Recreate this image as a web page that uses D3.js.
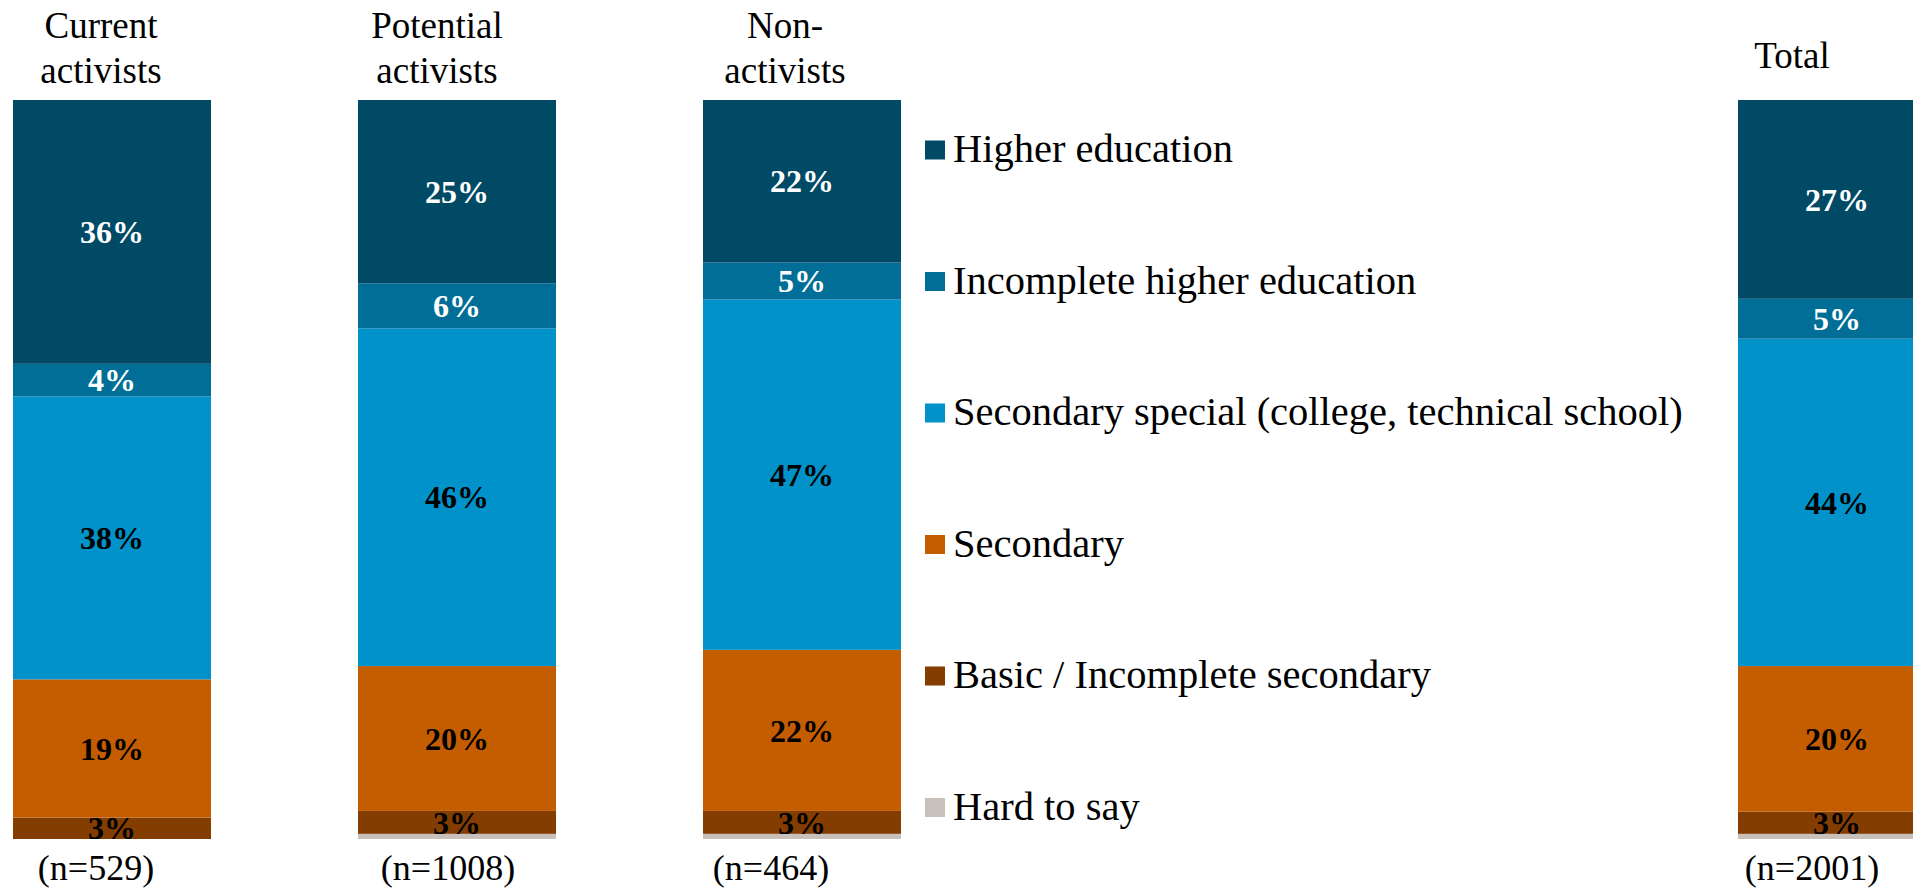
<!DOCTYPE html>
<html>
<head>
<meta charset="utf-8">
<script src="https://cdn.jsdelivr.net/npm/d3@7"></script>
<style>
  html, body { margin: 0; padding: 0; background: #ffffff; overflow: hidden; }
  svg { display: block; }
  text { font-family: "Liberation Serif", "DejaVu Serif", serif; }
</style>
</head>
<body>
<svg id="chart" width="1913" height="889"></svg>
<script>
// ---------- data ----------
const groups = ["Current activists", "Potential activists", "Non-activists", "Total"];
const headerLines = [["Current", "activists"], ["Potential", "activists"], ["Non-", "activists"], ["Total"]];
const sampleSizes = ["(n=529)", "(n=1008)", "(n=464)", "(n=2001)"];
const categories = [
  "Higher education",
  "Incomplete higher education",
  "Secondary special (college, technical school)",
  "Secondary",
  "Basic / Incomplete secondary",
  "Hard to say"
];
const higherEducation      = [35.7, 24.8, 22.0, 26.9];
const incompleteHigher     = [4.4, 6.1, 5.0, 5.4];
const secondarySpecial     = [38.3, 45.7, 47.4, 44.3];
const secondary            = [18.7, 19.6, 21.8, 19.7];
const basicIncomplete      = [2.9, 3.1, 3.1, 3.0];
const hardToSay            = [0.0, 0.7, 0.7, 0.7];

// ---------- layout / style ----------
const colors = ["#004a66", "#006e96", "#0092c9", "#c45c00", "#843d00", "#c8c0bb"];
const labelColors = ["#ffffff", "#ffffff", "#000000", "#000000", "#000000", null];
const slots = [0, 1, 2, 5];           // bar slot positions (legend occupies slots 3-4)
const headerShift = [-11, -20, -17, -45];
const nShift = [-16, -9, -31, -25];
const barWidth = 198;

const seriesArrays = [higherEducation, incompleteHigher, secondarySpecial, secondary, basicIncomplete, hardToSay];
const rows = groups.map((g, i) => {
  const r = { group: g, idx: i };
  categories.forEach((c, k) => { r[c] = seriesArrays[k][i]; });
  return r;
});

const svg = d3.select("#chart");
const x = d3.scaleLinear().domain([0, 5]).range([13, 1738]);
const y = d3.scaleLinear().domain([0, 100]).range([839, 100]);
const color = d3.scaleOrdinal().domain(categories).range(colors);

// stack from bottom: Hard to say ... Higher education on top
const stackKeys = categories.slice().reverse();
const stacked = d3.stack().keys(stackKeys)(rows);

const layers = svg.append("g").selectAll("g.layer")
  .data(stacked)
  .join("g")
  .attr("class", "layer")
  .attr("fill", d => color(d.key));

layers.selectAll("rect")
  .data(d => d.map(p => ({ key: d.key, p })))
  .join("rect")
  .attr("x", d => x(slots[d.p.data.idx]))
  .attr("width", barWidth)
  .attr("y", d => y(d.p[1]))
  .attr("height", d => Math.max(0, y(d.p[0]) - y(d.p[1])));

// value labels
const labelG = svg.append("g");
stacked.forEach(layer => {
  const ci = categories.indexOf(layer.key);
  if (!labelColors[ci]) return;
  layer.forEach(p => {
    const v = p[1] - p[0];
    labelG.append("text")
      .attr("x", x(slots[p.data.idx]) + barWidth / 2)
      .attr("y", (y(p[0]) + y(p[1])) / 2)
      .attr("dy", "0.35em")
      .attr("text-anchor", "middle")
      .attr("font-weight", "bold")
      .attr("font-size", 32)
      .attr("fill", labelColors[ci])
      .text(Math.round(v) + "%");
  });
});

// headers
const headerG = svg.append("g");
headerLines.forEach((lines, i) => {
  const cx = x(slots[i]) + barWidth / 2 + headerShift[i];
  const baselines = lines.length === 2 ? [38, 83] : [68];
  lines.forEach((ln, j) => {
    headerG.append("text")
      .attr("x", cx)
      .attr("y", baselines[j])
      .attr("text-anchor", "middle")
      .attr("font-size", 37)
      .attr("fill", "#000")
      .text(ln);
  });
});

// sample sizes
svg.append("g").selectAll("text")
  .data(sampleSizes)
  .join("text")
  .attr("x", (d, i) => x(slots[i]) + barWidth / 2 + nShift[i])
  .attr("y", 880)
  .attr("text-anchor", "middle")
  .attr("font-size", 36)
  .attr("fill", "#000")
  .text(d => d);

// legend
const legend = svg.append("g");
const ly = d3.scalePoint().domain(categories).range([150, 807.5]);
const items = legend.selectAll("g")
  .data(categories)
  .join("g")
  .attr("transform", d => `translate(925, ${ly(d)})`);
items.append("rect")
  .attr("x", 0).attr("y", -9.5)
  .attr("width", 20).attr("height", 19)
  .attr("fill", d => color(d));
items.append("text")
  .attr("x", 28)
  .attr("y", 12)
  .attr("font-size", 40.5)
  .attr("fill", "#000")
  .text(d => d);
</script>
</body>
</html>
